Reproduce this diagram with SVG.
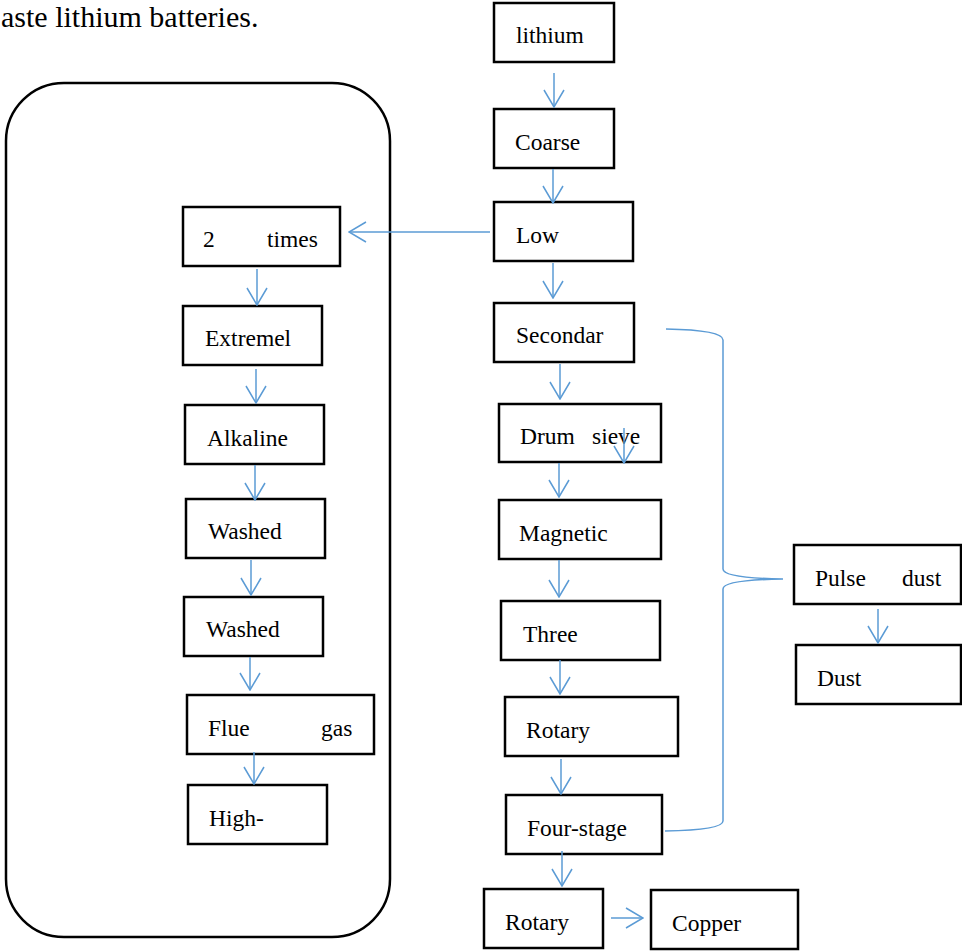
<svg xmlns="http://www.w3.org/2000/svg" width="962" height="952" viewBox="0 0 962 952">
<style>
.box{fill:#fff;stroke:#000;stroke-width:2.5}
.t{font-family:"Liberation Serif","Times New Roman",Tinos,"DejaVu Serif","Noto Serif",serif;font-size:23.5px;fill:#000}
.title{font-family:"Liberation Serif","Times New Roman",Tinos,"DejaVu Serif","Noto Serif",serif;font-size:30px;fill:#000}
.c{fill:none;stroke:#5B9BD5;stroke-width:1.5}
</style>
<defs>
<marker id="ah" viewBox="-18 -11 19 22" markerWidth="19" markerHeight="22" refX="0" refY="0" markerUnits="userSpaceOnUse" orient="auto">
<path d="M-17,-10 L0,0 L-17,10" fill="none" stroke="#5B9BD5" stroke-width="1.5"/>
</marker>
</defs>
<rect width="962" height="952" fill="#fff"/>
<text class="title" x="1" y="27">aste lithium batteries.</text>
<rect id="group-frame" x="6" y="83" width="384" height="854" rx="58" ry="58" fill="none" stroke="#000" stroke-width="2.5"/>

<g id="n-lithium"><rect class="box" x="494" y="3" width="120" height="59"/><text class="t" x="516" y="43">lithium</text></g>
<g id="n-coarse"><rect class="box" x="494" y="109" width="120" height="59"/><text class="t" x="515" y="150">Coarse</text></g>
<g id="n-low"><rect class="box" x="494" y="202" width="139" height="59"/><text class="t" x="516" y="243">Low</text></g>
<g id="n-secondar"><rect class="box" x="494" y="303" width="140" height="59"/><text class="t" x="516" y="343">Secondar</text></g>
<g id="n-drum"><rect class="box" x="499" y="404" width="162" height="58"/><text class="t" x="520" y="444">Drum</text><text class="t" x="592" y="444">sieve</text></g>
<g id="n-magnetic"><rect class="box" x="499" y="500" width="162" height="59"/><text class="t" x="519" y="541">Magnetic</text></g>
<g id="n-three"><rect class="box" x="501" y="601" width="159" height="59"/><text class="t" x="523" y="642">Three</text></g>
<g id="n-rotary1"><rect class="box" x="505" y="697" width="173" height="59"/><text class="t" x="526" y="738">Rotary</text></g>
<g id="n-four"><rect class="box" x="506" y="795" width="156" height="59"/><text class="t" x="527" y="836">Four-stage</text></g>
<g id="n-rotary2"><rect class="box" x="484" y="889" width="119" height="59"/><text class="t" x="505" y="930">Rotary</text></g>
<g id="n-copper"><rect class="box" x="651" y="890" width="147" height="59"/><text class="t" x="672" y="931">Copper</text></g>
<g id="n-pulse"><rect class="box" x="794" y="545" width="167" height="59"/><text class="t" x="815" y="586">Pulse</text><text class="t" x="902" y="586">dust</text></g>
<g id="n-dust"><rect class="box" x="796" y="645" width="165" height="59"/><text class="t" x="817" y="686">Dust</text></g>

<g id="n-2times"><rect class="box" x="183" y="207" width="157" height="59"/><text class="t" x="203" y="247">2</text><text class="t" x="267" y="247">times</text></g>
<g id="n-extremel"><rect class="box" x="183" y="306" width="139" height="59"/><text class="t" x="205" y="346">Extremel</text></g>
<g id="n-alkaline"><rect class="box" x="185" y="405" width="139" height="59"/><text class="t" x="207" y="446">Alkaline</text></g>
<g id="n-washed1"><rect class="box" x="186" y="499" width="139" height="59"/><text class="t" x="208" y="539">Washed</text></g>
<g id="n-washed2"><rect class="box" x="184" y="597" width="139" height="59"/><text class="t" x="206" y="637">Washed</text></g>
<g id="n-flue"><rect class="box" x="187" y="695" width="187" height="59"/><text class="t" x="208" y="736">Flue</text><text class="t" x="321" y="736">gas</text></g>
<g id="n-high"><rect class="box" x="188" y="785" width="139" height="59"/><text class="t" x="209" y="826">High-</text></g>

<g id="connectors">
<line class="c" x1="554" y1="73" x2="554" y2="107" marker-end="url(#ah)"/>
<line class="c" x1="553" y1="169" x2="553" y2="203" marker-end="url(#ah)"/>
<line class="c" x1="553" y1="263" x2="553" y2="298" marker-end="url(#ah)"/>
<line class="c" x1="490" y1="232" x2="349" y2="232" marker-end="url(#ah)"/>
<line class="c" x1="560" y1="364" x2="560" y2="399" marker-end="url(#ah)"/>
<line class="c" x1="624" y1="428" x2="624" y2="463" marker-end="url(#ah)"/>
<line class="c" x1="559" y1="463" x2="559" y2="497" marker-end="url(#ah)"/>
<line class="c" x1="559" y1="560" x2="559" y2="597" marker-end="url(#ah)"/>
<line class="c" x1="560" y1="660" x2="560" y2="694" marker-end="url(#ah)"/>
<line class="c" x1="561" y1="759" x2="561" y2="794" marker-end="url(#ah)"/>
<line class="c" x1="562" y1="851" x2="562" y2="886" marker-end="url(#ah)"/>
<line class="c" x1="611" y1="918" x2="643" y2="918" marker-end="url(#ah)"/>
<line class="c" x1="878" y1="609" x2="878" y2="643" marker-end="url(#ah)"/>
<line class="c" x1="257" y1="269" x2="257" y2="305" marker-end="url(#ah)"/>
<line class="c" x1="256" y1="369" x2="256" y2="403" marker-end="url(#ah)"/>
<line class="c" x1="255" y1="465" x2="255" y2="500" marker-end="url(#ah)"/>
<line class="c" x1="251" y1="560" x2="251" y2="595" marker-end="url(#ah)"/>
<line class="c" x1="250" y1="657" x2="250" y2="690" marker-end="url(#ah)"/>
<line class="c" x1="254" y1="752" x2="254" y2="784" marker-end="url(#ah)"/>
<path class="c" d="M666,329 Q723,330 723,340 L723,569 Q723,578 783,579 Q723,580 723,589 L723,821 Q723,830 665,831"/>
</g>
</svg>
